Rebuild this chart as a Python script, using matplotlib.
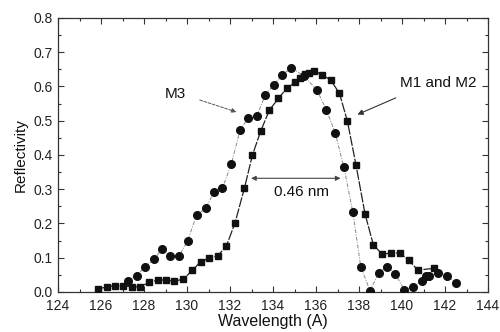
import matplotlib
matplotlib.use("Agg")
import matplotlib.pyplot as plt
from matplotlib.ticker import MultipleLocator

plt.rcParams['font.family'] = ['Liberation Sans', 'DejaVu Sans']

# M1 and M2 (squares)
wl_sq = [125.87, 126.29, 126.65, 127.04, 127.43, 127.81, 128.23, 128.64, 129.02, 129.41,
         129.83, 130.25, 130.64, 131.04, 131.43, 131.83, 132.23, 132.67, 133.04, 133.43,
         133.83, 134.25, 134.64, 135.02, 135.26, 135.49, 135.69, 135.91, 136.29, 136.68,
         137.09, 137.46, 137.86, 138.28, 138.67, 139.09, 139.49, 139.89, 140.33, 140.73,
         141.49]
r_sq = [0.009, 0.015, 0.018, 0.018, 0.015, 0.015, 0.028, 0.035, 0.035, 0.031,
        0.038, 0.063, 0.089, 0.099, 0.106, 0.134, 0.201, 0.303, 0.399, 0.470,
        0.531, 0.565, 0.595, 0.612, 0.626, 0.636, 0.640, 0.646, 0.634, 0.619,
        0.580, 0.499, 0.371, 0.228, 0.137, 0.110, 0.114, 0.114, 0.092, 0.064,
        0.069]

# M3 (circles)
wl_ci = [127.24, 127.66, 128.05, 128.47, 128.84, 129.22, 129.63, 130.03, 130.45, 130.87,
         131.26, 131.65, 132.06, 132.47, 132.86, 133.25, 133.64, 134.03, 134.44, 134.86,
         135.45, 136.05, 136.48, 136.90, 137.30, 137.71, 138.08, 138.51, 138.92, 139.29,
         139.69, 140.11, 140.53, 140.91, 141.12, 141.27, 141.69, 142.09, 142.50]
r_ci = [0.033, 0.048, 0.074, 0.096, 0.126, 0.106, 0.105, 0.150, 0.225, 0.244,
        0.293, 0.304, 0.373, 0.473, 0.509, 0.515, 0.575, 0.605, 0.634, 0.655,
        0.630, 0.589, 0.532, 0.463, 0.364, 0.234, 0.074, 0.004, 0.055, 0.074,
        0.052, 0.006, 0.016, 0.032, 0.047, 0.047, 0.056, 0.048, 0.027]

xticks = [124, 126, 128, 130, 132, 134, 136, 138, 140, 142, 144]
yticks = [0.0, 0.1, 0.2, 0.3, 0.4, 0.5, 0.6, 0.7, 0.8]

fig = plt.figure(figsize=(5.0, 3.32), dpi=100)
ax = fig.add_axes([0.116, 0.1205, 0.860, 0.8253])

ax.plot(wl_ci, r_ci, linestyle=(0, (4, 1.5, 1, 1.5)), color='#888888', linewidth=0.7,
        marker='o', markersize=5.5, markerfacecolor='#111111', markeredgecolor='#111111', zorder=3)
ax.plot(wl_sq, r_sq, linestyle=(0, (8, 1.2)), color='#222222', linewidth=0.9,
        marker='s', markersize=5, markerfacecolor='#111111', markeredgecolor='#111111', zorder=4)

ax.set_xlim(124, 144)
ax.set_ylim(0.0, 0.8)
ax.set_xticks(xticks)
ax.set_yticks(yticks)
ax.set_xticklabels([str(t) for t in xticks])
ax.set_yticklabels([f"{t:.1f}" for t in yticks])
ax.xaxis.set_minor_locator(MultipleLocator(1))
ax.yaxis.set_minor_locator(MultipleLocator(0.05))
ax.tick_params(which='both', direction='in', top=True, right=True, colors='#333333',
               labelsize=10, labelcolor='#222222', width=0.8)
ax.tick_params(which='major', length=4)
ax.tick_params(which='minor', length=2)
ax.tick_params(axis='x', which='major', pad=5)
ax.tick_params(axis='y', which='major', pad=4)
for s in ax.spines.values():
    s.set_color('#333333')
    s.set_linewidth(0.9)

ax.set_xlabel('Wavelength (A)', fontsize=11.5, color='#111111', labelpad=1)
ax.set_ylabel('Reflectivity', fontsize=11, color='#111111', labelpad=4)

# annotations
ax.annotate('', xy=(132.42, 0.523), xytext=(130.47, 0.563),
            arrowprops=dict(arrowstyle='-|>', color='#555555', lw=0.7,
                            linestyle=(0, (3, 1.5)), mutation_scale=7))
ax.text(129.44, 0.578, 'M3', fontsize=11, ha='center', va='center', color='#111111')

ax.annotate('', xy=(137.81, 0.515), xytext=(139.83, 0.570),
            arrowprops=dict(arrowstyle='-|>', color='#333333', lw=0.8, mutation_scale=8))
ax.text(141.70, 0.610, 'M1 and M2', fontsize=11, ha='center', va='center', color='#111111')

ax.annotate('', xy=(132.85, 0.332), xytext=(137.27, 0.332),
            arrowprops=dict(arrowstyle='<|-|>', color='#444444', lw=0.8, mutation_scale=7))
ax.text(135.33, 0.292, '0.46 nm', fontsize=11, ha='center', va='center', color='#111111')

fig.savefig('out.png', dpi=100)
